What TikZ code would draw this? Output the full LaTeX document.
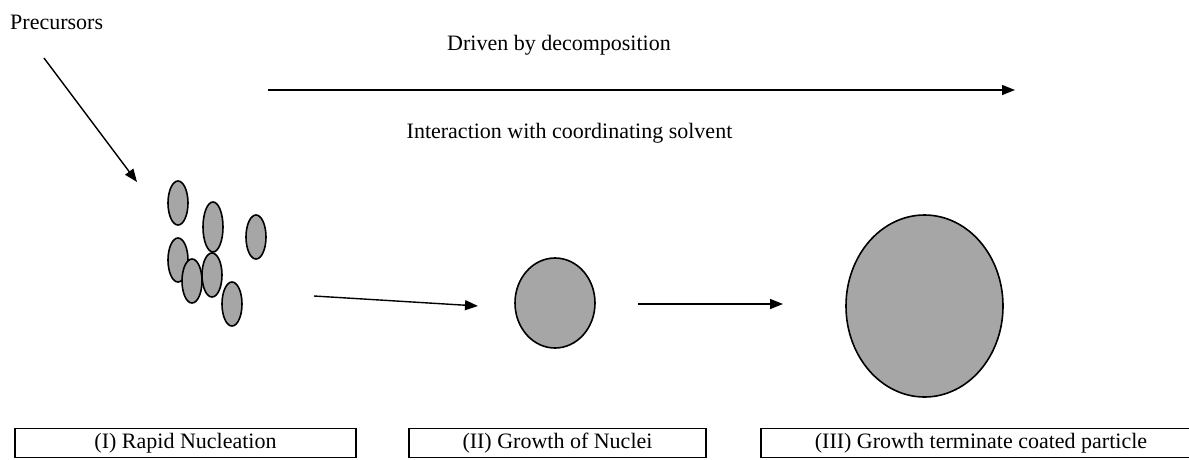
\documentclass[tikz,border=0pt]{standalone}
\usepackage{fontspec}
\setmainfont{Liberation Serif}
\usetikzlibrary{shapes.geometric,arrows.meta}
\definecolor{particle}{HTML}{A6A6A6}
\tikzset{
  lbl/.style={font=\fontsize{22}{25}\selectfont, inner sep=0pt, anchor=base},
  flow/.style={line width=1.4pt, -{Triangle[length=13pt,width=10pt]}},
  grain/.style={ellipse, draw, line width=1.6pt, fill=particle, inner sep=0pt},
  stagebox/.style={draw, line width=1.2pt, inner sep=0pt, font=\fontsize{22}{25}\selectfont}
}
\begin{document}
\begin{tikzpicture}[x=1pt,y=-1pt]
\useasboundingbox (0,0) rectangle (1189,459);

% labels along the top
\node[lbl, anchor=base west] (prec) at (10,29) {Precursors};
\node[lbl] (driven) at (559,50) {Driven by decomposition};
\node[lbl] (inter) at (569.5,138) {Interaction with coordinating solvent};

% main process arrow
\coordinate (pa) at (268,90);
\coordinate (pb) at (1015,90);
\draw[flow] (pa) -- (pb);

% precursor feed
\coordinate (fa) at (44,58);
\coordinate (fb) at (137,182);
\draw[flow] (fa) -- (fb);

% stage I: cluster of small nuclei
\node[grain, minimum width=20pt, minimum height=44pt] (g1) at (178,203) {};
\node[grain, minimum width=20pt, minimum height=50pt] (g2) at (213,227) {};
\node[grain, minimum width=20pt, minimum height=44pt] (g3) at (256,237) {};
\node[grain, minimum width=20pt, minimum height=44pt] (g4) at (178,260) {};
\node[grain, minimum width=20pt, minimum height=44pt] (g5) at (192,281) {};
\node[grain, minimum width=20pt, minimum height=44pt] (g6) at (212,275) {};
\node[grain, minimum width=20pt, minimum height=44pt] (g7) at (232,304) {};

% stage II: grown nucleus
\node[grain, minimum width=80pt, minimum height=90pt] (nuc) at (555,303) {};

% stage III: coated particle
\node[grain, minimum width=157pt, minimum height=182pt] (part) at (924.5,306) {};

% stage transitions
\coordinate (ta) at (314,296);
\coordinate (tb) at (478,306);
\draw[flow] (ta) -- (tb);
\coordinate (tc) at (638,304);
\coordinate (td) at (783,304);
\draw[flow] (tc) -- (td);

% stage captions
\node[stagebox, minimum width=341pt, minimum height=29pt] (s1) at (185.5,443) {(I) Rapid Nucleation};
\node[stagebox, minimum width=297pt, minimum height=29pt] (s2) at (557.5,443) {(II) Growth of Nuclei};
\node[stagebox, minimum width=440pt, minimum height=29pt] (s3) at (981,443) {(III) Growth terminate coated particle};
\end{tikzpicture}
\end{document}
